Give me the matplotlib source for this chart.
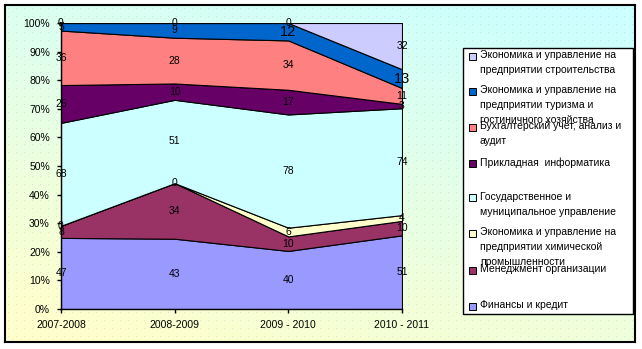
import numpy as np
import matplotlib
matplotlib.use("Agg")
import matplotlib.pyplot as plt
from matplotlib.patches import Rectangle
from matplotlib.ticker import PercentFormatter

plt.rcParams['font.family'] = ['Liberation Sans', 'DejaVu Sans']

years = ['2007-2008', '2008-2009', '2009 - 2010', '2010 - 2011']

# series from bottom of the stack to top
finance = [47, 43, 40, 51]
management = [8, 34, 10, 10]
chemistry = [0, 0, 6, 4]
state = [68, 51, 78, 74]
informatics = [25, 10, 17, 3]
accounting = [36, 28, 34, 11]
tourism = [5, 9, 12, 13]
construction = [0, 0, 0, 32]

names = [
    'Финансы и кредит',
    'Менеджмент организации',
    'Экономика и управление на\nпредприятии химической\nпромышленности',
    'Государственное и\nмуниципальное управление',
    'Прикладная  информатика',
    'Бухгалтерский учет, анализ и\nаудит',
    'Экономика и управление на\nпредприятии туризма и\nгостиничного хозяйства',
    'Экономика и управление на\nпредприятии строительства',
]
colors = ['#9999FF', '#993366', '#FFFFCC', '#CCFFFF',
          '#660066', '#FF8080', '#0066CC', '#CCCCFF']

series = np.array([finance, management, chemistry, state,
                   informatics, accounting, tourism, construction], dtype=float)
pct = series / series.sum(axis=0) * 100

W, H = 642, 349
fig = plt.figure(figsize=(W / 100, H / 100), dpi=100)
fig.patch.set_facecolor('white')

def fx(x):
    return x / W

def fy(y):
    return 1 - y / H

# chart area with a cyan -> yellow gradient
bg = fig.add_axes([fx(5), fy(342), fx(630), 337 / H], zorder=0)
hh, ww = 337, 630
yy, xx = np.mgrid[0:hh, 0:ww]
t = np.clip(0.75 * yy / hh + 0.35 * (1 - xx / ww) - 0.05, 0, 1)
c0 = np.array([0xCC, 0xFF, 0xFF]) / 255
c1 = np.array([0xFF, 0xFF, 0xCC]) / 255
img = c0[None, None, :] * (1 - t[..., None]) + c1[None, None, :] * t[..., None]
dots = (yy % 8 == 3) & (xx % 8 == 3)
img[dots] = img[dots] * 0.9
bg.imshow(img, aspect='auto', interpolation='nearest', extent=[0, 1, 0, 1])
bg.set_xticks([])
bg.set_yticks([])
for s in bg.spines.values():
    s.set_linewidth(1.5)
    s.set_color('black')

ax = fig.add_axes([fx(61), fy(309), fx(402 - 61), (309 - 23) / H], zorder=1)
ax.patch.set_alpha(0)
x = np.arange(len(years))
ax.stackplot(x, pct, colors=colors, edgecolor='black', linewidth=0.8)
ax.set_xlim(0, len(years) - 1)
ax.set_ylim(0, 100)
ax.set_yticks(np.arange(0, 101, 10))
ax.yaxis.set_major_formatter(PercentFormatter(decimals=0))
ax.set_xticks(x)
ax.set_xticklabels(years)
ax.tick_params(axis='both', direction='out', length=3, width=1, labelsize=7.5, colors='black')
ax.tick_params(axis='y', pad=5)
ax.tick_params(axis='x', pad=5)
ax.spines['top'].set_visible(False)
ax.spines['right'].set_visible(False)
for s in ['left', 'bottom']:
    ax.spines[s].set_linewidth(1)

# data labels in the middle of each band
cum = np.cumsum(pct, axis=0)
big = {(6, 2), (6, 3)}
for i in range(series.shape[0]):
    for j in range(series.shape[1]):
        mid = cum[i, j] - pct[i, j] / 2
        size = 10.5 if (i, j) in big else 7.5
        ax.text(x[j], mid, f'{int(series[i, j])}', ha='center', va='center',
                fontsize=size, color='black', clip_on=False, zorder=5)

# legend drawn by hand
fig.patches.append(Rectangle((fx(463), fy(314)), fx(633 - 463), (314 - 48) / H,
                             transform=fig.transFigure, facecolor='white',
                             edgecolor='black', linewidth=1, zorder=2))
entry_y = [56, 91, 127, 163, 198, 233, 270, 306]
for k, yk in enumerate(entry_y):
    i = len(names) - 1 - k
    fig.patches.append(Rectangle((fx(469), fy(yk + 3.5)), fx(7), 7 / H,
                                 transform=fig.transFigure, facecolor=colors[i],
                                 edgecolor='black', linewidth=0.7, zorder=3))
    fig.text(fx(480), fy(yk - 6), names[i], ha='left', va='top', fontsize=7.5,
             linespacing=1.6, zorder=4)

fig.savefig('out.png', dpi=100)
